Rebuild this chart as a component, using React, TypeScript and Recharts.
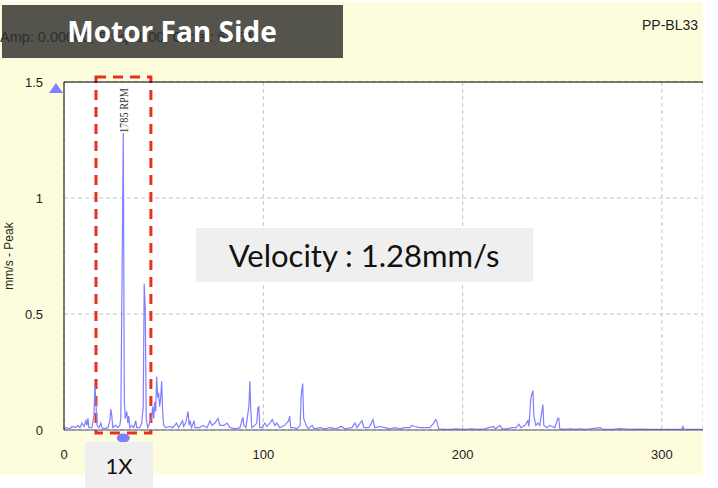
import { LineChart, Line, XAxis, YAxis, CartesianGrid, ReferenceArea, ReferenceDot, ReferenceLine } from "recharts";

// Vibration spectrum, motor fan side (Hz vs mm/s peak).
const FREQ_MAX = 320.6;
const xTicks = [0, 100, 200, 300];
const yTicks = [0, 0.5, 1, 1.5];

// 1X running speed (1785 RPM) and the band boxed in red around it
const oneXHz = 29.75;
const oneXAmp = 1.28;
const bandHz = [16.05, 43.6];
const bandAmp = [-0.013, 1.522];

// [Hz, mm/s]
const spectrum: [number, number][] = [
  [0, 0.005], [1, 0.01], [3, 0.005], [4, 0.015], [6, 0.01], [7, 0.02], [8, 0.01], [9, 0.03],
  [10, 0.015], [11, 0.04], [11.5, 0.02], [12, 0.05], [12.5, 0.01], [14, 0.01], [15, 0.06],
  [15.5, 0.19], [16, 0.13], [16.5, 0.02], [17.5, 0.01], [18.5, 0.03], [19, 0.01], [20, 0.005],
  [22, 0.01], [23, 0.04], [23.5, 0.09], [24, 0.06], [24.5, 0.01], [26, 0.02], [27, 0.01],
  [28, 0.02], [28.5, 0.05], [29.25, 0.79], [29.75, 1.28], [30.25, 0.13], [30.75, 0.05],
  [31.5, 0.08], [32, 0.03], [32.5, 0.06], [33, 0.01], [34, 0.02], [35, 0.01], [36, 0.04],
  [36.5, 0.01], [38, 0.01], [39, 0.03], [39.75, 0.1], [40.25, 0.63], [40.75, 0.53],
  [41.25, 0.05], [42, 0.01], [43, 0.03], [44, 0.06], [44.5, 0.1], [45, 0.05], [45.5, 0.12],
  [46, 0.08], [46.5, 0.23], [47, 0.14], [47.5, 0.16], [48, 0.1], [48.5, 0.14], [49, 0.21],
  [49.5, 0.08], [50, 0.02], [51, 0.01], [53, 0.015], [54.5, 0.01], [56.5, 0.03], [57.5, 0.01],
  [59.5, 0.04], [60, 0.015], [61, 0.03], [62.25, 0.08], [62.75, 0.02], [63.25, 0.04],
  [64, 0.01], [65.25, 0.04], [65.75, 0.01], [68, 0.01], [69.75, 0.02], [71.75, 0.01],
  [73.25, 0.04], [74.25, 0.02], [75.75, 0.03], [77.25, 0.05], [78.25, 0.02], [80.25, 0.02],
  [81.75, 0.03], [83.25, 0.01], [86.25, 0.005], [88.25, 0.01], [89.75, 0.055], [90.25, 0.02],
  [91.25, 0.01], [92.75, 0.1], [93.25, 0.21], [93.75, 0.08], [94.25, 0.01], [95.75, 0.02],
  [96.75, 0.03], [97.25, 0.095], [97.75, 0.1], [98.25, 0.01], [99.25, 0.01], [100.75, 0.03],
  [101.75, 0.015], [103.25, 0.03], [104.5, 0.045], [105.75, 0.02], [106.75, 0.03],
  [108.25, 0.01], [110.75, 0.02], [112.75, 0.04], [113.25, 0.06], [113.75, 0.01],
  [115.25, 0.01], [116.75, 0.005], [118.5, 0.02], [119, 0.15], [119.75, 0.2], [120.25, 0.05],
  [121.5, 0.02], [122.5, 0.005], [124.5, 0.02], [125.5, 0.005], [128.5, 0.01], [131, 0.005],
  [133.5, 0.01], [136.5, 0.005], [139, 0.015], [141, 0.005], [144.5, 0.01], [146, 0.03],
  [147, 0.01], [149, 0.035], [149.5, 0.04], [150.5, 0.01], [153, 0.01], [154.5, 0.035],
  [155, 0.045], [156, 0.01], [158.5, 0.015], [161, 0.01], [163.5, 0.005], [166, 0.01],
  [168.5, 0.005], [171, 0.01], [173.5, 0.01], [174.5, 0.02], [176, 0.015], [178.5, 0.01],
  [181, 0.01], [183.5, 0.01], [185.5, 0.03], [186.5, 0.045], [187, 0.04], [188, 0.005],
  [191, 0.003], [194.5, 0.003], [196, 0.005], [201, 0.003], [204.5, 0.005], [207.5, 0.003],
  [211, 0.005], [215.5, 0.015], [216.5, 0.005], [218.75, 0.02], [219.75, 0.005],
  [222.75, 0.005], [224.75, 0.01], [226.75, 0.01], [228.25, 0.025], [229.25, 0.01],
  [231.25, 0.02], [232.75, 0.04], [233.25, 0.015], [234.25, 0.14], [235.25, 0.17],
  [235.75, 0.06], [236.75, 0.02], [237.75, 0.03], [238.75, 0.02], [239.75, 0.08],
  [240.25, 0.11], [240.75, 0.02], [242.25, 0.01], [243.75, 0.02], [244.75, 0.015],
  [246.25, 0.01], [247.75, 0.05], [248.25, 0.05], [248.75, 0.005], [251.5, 0.003],
  [254, 0.005], [256.5, 0.003], [259, 0.005], [261.5, 0.003], [264, 0.005], [269, 0.01],
  [270, 0.003], [275, 0.003], [279, 0.006], [284, 0.003], [289, 0.004], [294, 0.003],
  [299, 0.003], [304, 0.003], [310, 0.003], [310.5, 0.015], [311, 0.003], [316.5, 0.003],
  [320.6, 0.003],
];

const data = spectrum.map(([hz, amp]) => ({ hz, amp }));

const AXIS_FONT = "Liberation Sans, Arial, sans-serif";
const SLIDE_FONT = "Lato, Open Sans, sans-serif";
const BLUE = "#7f7fff";
const RED = "#e8301c";

export default function App() {
  return (
    <div style={{ position: "absolute", left: 0, top: 0, width: 718, height: 488, background: "#fff", overflow: "hidden" }}>
      {/* analyser panel background */}
      <div style={{ position: "absolute", left: 0, top: 2, width: 703, height: 473, background: "#fdfddd" }} />

      <div style={{ position: "absolute", left: 0, top: 0 }}>
        <LineChart width={703} height={476} data={data} margin={{ top: 82, right: 0, bottom: 16, left: 8 }}>
          <CartesianGrid fill="#fff" stroke="#c4c4c4" strokeDasharray="4 3" />
          <XAxis
            dataKey="hz"
            type="number"
            domain={[0, FREQ_MAX]}
            allowDataOverflow
            ticks={xTicks}
            interval={0}
            height={30}
            tickLine={false}
            tickMargin={14}
            axisLine={{ stroke: "#55557a" }}
            tick={{ fontSize: 13, fill: "#222", fontFamily: AXIS_FONT }}
          />
          <YAxis
            type="number"
            domain={[0, 1.5]}
            allowDataOverflow
            ticks={yTicks}
            interval={0}
            width={56}
            tickLine={false}
            tickMargin={15}
            axisLine={{ stroke: "#000" }}
            tick={{ fontSize: 13, fill: "#222", fontFamily: AXIS_FONT }}
          />
          <ReferenceLine y={1.5} stroke="#000" />
          <Line
            type="linear"
            dataKey="amp"
            stroke={BLUE}
            strokeWidth={1.2}
            dot={false}
            isAnimationActive={false}
          />
          {/* 1X band highlight */}
          <ReferenceArea
            x1={bandHz[0]}
            x2={bandHz[1]}
            y1={bandAmp[0]}
            y2={bandAmp[1]}
            ifOverflow="visible"
            fill="none"
            fillOpacity={0}
            stroke={RED}
            strokeWidth={3}
            strokeDasharray="10 7"
          />
          {/* peak label */}
          <ReferenceDot
            x={oneXHz}
            y={oneXAmp}
            ifOverflow="visible"
            shape={(p: any) => (
              <text
                x={p.cx + 4.5}
                y={p.cy}
                transform={`rotate(-90 ${p.cx + 4.5} ${p.cy})`}
                fontSize={12}
                fontFamily="Liberation Serif, serif"
                fill="#333"
                textLength={45}
                lengthAdjust="spacingAndGlyphs"
              >
                1785 RPM
              </text>
            )}
          />
          {/* cursor markers */}
          <ReferenceDot
            x={oneXHz}
            y={0}
            ifOverflow="visible"
            shape={(p: any) => <ellipse cx={p.cx} cy={p.cy + 8} rx={6.5} ry={4.5} fill={BLUE} />}
          />
          <ReferenceDot
            x={0}
            y={1.5}
            ifOverflow="visible"
            shape={(p: any) => (
              <polygon
                points={`${p.cx - 8},${p.cy + 1} ${p.cx - 15},${p.cy + 11} ${p.cx - 1},${p.cy + 11}`}
                fill={BLUE}
              />
            )}
          />
        </LineChart>
      </div>

      {/* slide annotations */}
      <svg width={718} height={488} style={{ position: "absolute", left: 0, top: 0 }}>
        <text x={13} y={256} transform="rotate(-90 13 256)" textAnchor="middle" fontSize={12} fill="#222" fontFamily={AXIS_FONT}>
          mm/s - Peak
        </text>
        <svg x={0} y={0} width={703} height={476}>
          <text x={642} y={30} fontSize={14} fill="#222" fontFamily={AXIS_FONT}>PP-BL33</text>
        </svg>

        <rect x={2} y={5} width={341} height={53} fill="#55544c" />
        <text x={0} y={42} fontSize={14.5} fill="#2e2e2e" fontFamily={AXIS_FONT}>
          Amp: 0.00000, Freq: 1.00, Order: 63.61, ---
        </text>
        <text x={172} y={42} textAnchor="middle" fontSize={28} fontWeight={700} fill="#fff" fontFamily="Open Sans, sans-serif">
          Motor Fan Side
        </text>

        <rect x={196} y={228} width={337} height={54} fill="#efefef" />
        <text x={364} y={267} textAnchor="middle" fontSize={31} fill="#111" fontFamily={SLIDE_FONT}>
          Velocity : 1.28mm/s
        </text>

        <rect x={85} y={442} width={68} height={46} fill="#efefef" />
        <text x={119} y={474} textAnchor="middle" fontSize={22} fill="#111" fontFamily={SLIDE_FONT}>
          1X
        </text>
      </svg>
    </div>
  );
}
